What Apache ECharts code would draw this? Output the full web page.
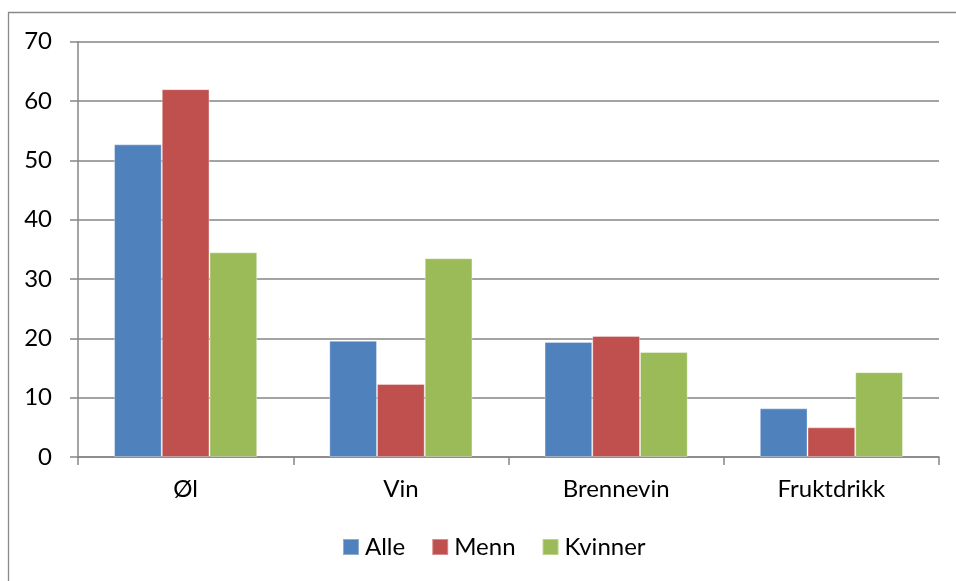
<!DOCTYPE html>
<html>
<head>
<meta charset="utf-8">
<script src="https://cdn.jsdelivr.net/npm/echarts@6/dist/echarts.min.js"></script>
<style>
html,body{margin:0;padding:0;background:#fff;}
#chart{width:956px;height:581px;}
</style>
</head>
<body>
<div id="chart"></div>
<script>
var categories = ['Øl', 'Vin', 'Brennevin', 'Fruktdrikk'];
var alle = [52.7, 19.6, 19.4, 8.2];
var menn = [62.0, 12.3, 20.4, 5.0];
var kvinner = [34.5, 33.5, 17.7, 14.3];
var seriesNames = ['Alle', 'Menn', 'Kvinner'];
var yTicks = {min: 0, max: 70, interval: 10};

var FONT = 'Lato';
var chart = echarts.init(document.getElementById('chart'), null, {renderer: 'canvas'});
function bar(name, data, color) {
  return {
    name: name, type: 'bar', data: data,
    barGap: '0%', barCategoryGap: '33.5%',
    itemStyle: {color: color, borderColor: 'rgba(255,255,255,0.35)', borderWidth: 1},
    emphasis: {disabled: true}
  };
}
chart.setOption({
  animation: false,
  textStyle: {fontFamily: FONT},
  graphic: [{
    type: 'rect', shape: {x: 8.5, y: 12.5, width: 1000, height: 1000},
    style: {fill: 'none', stroke: '#898989', lineWidth: 1.3}, z: 0
  }],
  grid: {left: 78, right: 17, top: 41.7, bottom: 124, containLabel: false},
  legend: {
    data: seriesNames, bottom: 17, left: 337,
    icon: 'rect', itemWidth: 16, itemHeight: 16, itemGap: 26,
    textStyle: {fontFamily: FONT, fontSize: 24, color: '#000', padding: [0,0,0,1]}
  },
  xAxis: {
    type: 'category', data: categories, boundaryGap: true,
    axisLine: {lineStyle: {color: '#868686', width: 1.5}},
    axisTick: {show: true, length: 8, alignWithLabel: false, lineStyle: {color: '#868686', width: 1.5}},
    axisLabel: {fontFamily: FONT, fontSize: 24, color: '#000', margin: 20}
  },
  yAxis: {
    type: 'value', min: yTicks.min, max: yTicks.max, interval: yTicks.interval,
    axisLine: {show: true, lineStyle: {color: '#868686', width: 1.5}},
    axisTick: {show: true, length: 8, lineStyle: {color: '#868686', width: 1.5}},
    splitLine: {lineStyle: {color: '#848484', width: 1.6}},
    axisLabel: {fontFamily: FONT, fontSize: 24, color: '#000', margin: 26}
  },
  series: [
    bar(seriesNames[0], alle, '#4F81BD'),
    bar(seriesNames[1], menn, '#C0504D'),
    bar(seriesNames[2], kvinner, '#9BBB59')
  ]
});
</script>
</body>
</html>
